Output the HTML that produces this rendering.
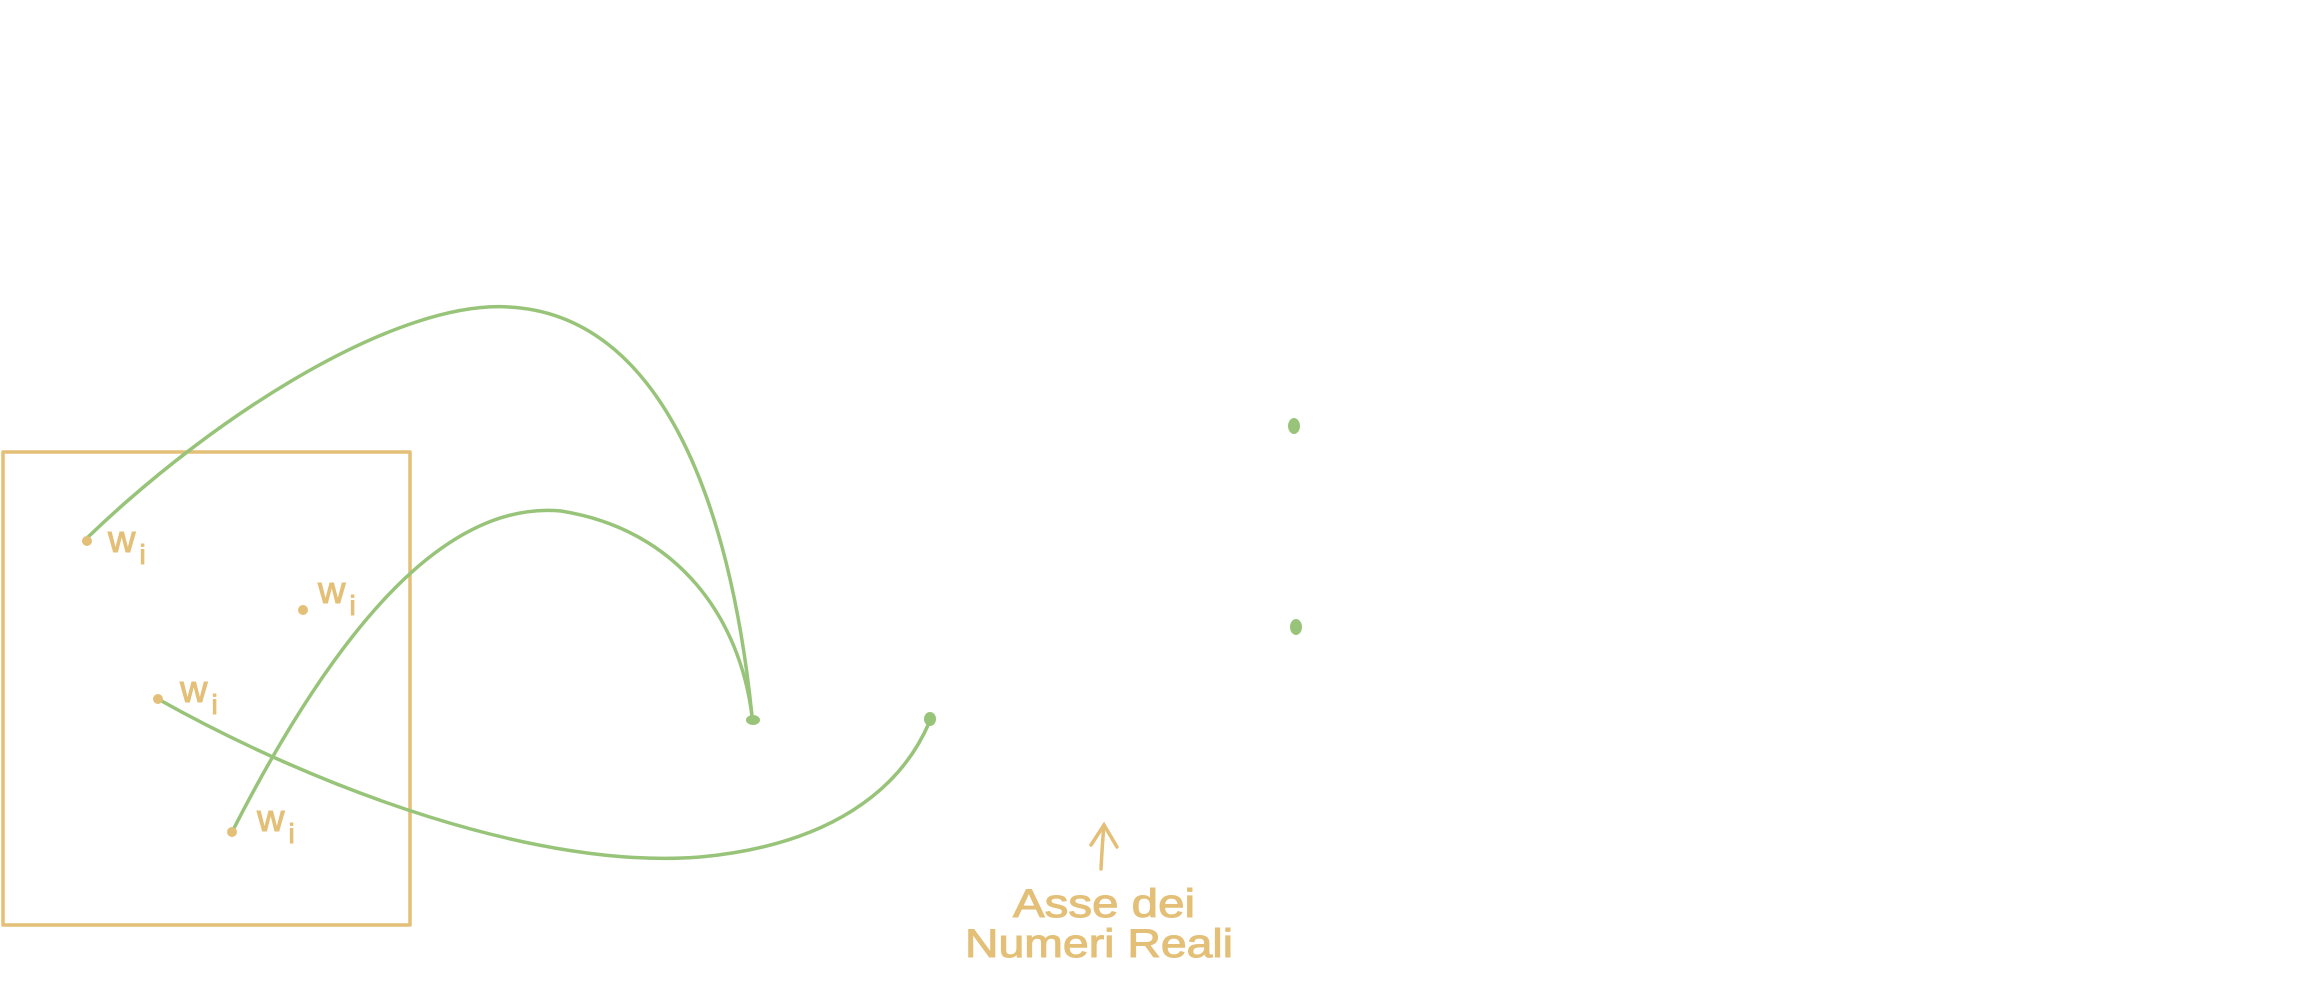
<!DOCTYPE html>
<html><head><meta charset="utf-8"><style>
html,body{margin:0;padding:0;background:#fff;width:2299px;height:1000px;overflow:hidden}
svg{display:block}
text{font-family:"Liberation Sans",sans-serif;fill:#e3bf77;stroke:#e3bf77;stroke-width:1}
</style></head><body>
<svg width="2299" height="1000" viewBox="0 0 2299 1000">
<rect x="3" y="452" width="407" height="473" fill="none" stroke="#e3bf77" stroke-width="3.5" stroke-linejoin="round"/>
<g stroke="#98c47a" stroke-width="3.5" fill="none" stroke-linecap="round">
<path d="M87,538 C220,410 400,300 509,307 C660,315 730,500 752,716"/>
<path d="M232,832 C330,640 440,500 561,511 C680,530 740,620 752,716"/>
<path d="M158,699 C320,790 540,870 700,857 C830,845 900,790 929,723"/>
</g>
<g fill="#98c47a">
<ellipse cx="753" cy="720" rx="7" ry="5"/>
<ellipse cx="930" cy="719" rx="6" ry="7"/>
<ellipse cx="1294" cy="426" rx="6" ry="8"/>
<ellipse cx="1296" cy="627" rx="6" ry="8"/>
</g>
<g fill="#e3bf77">
<circle cx="87" cy="541" r="5"/>
<circle cx="303" cy="610" r="5"/>
<circle cx="158" cy="699" r="5"/>
<circle cx="232" cy="832" r="5"/>
</g>
<text x="108" y="552" font-size="38" letter-spacing="4">w<tspan font-size="28" dy="12">i</tspan></text>
<text x="318" y="603" font-size="38" letter-spacing="4">w<tspan font-size="28" dy="12">i</tspan></text>
<text x="180" y="702" font-size="38" letter-spacing="4">w<tspan font-size="28" dy="12">i</tspan></text>
<text x="257" y="831" font-size="38" letter-spacing="4">w<tspan font-size="28" dy="12">i</tspan></text>
<g stroke="#e3bf77" stroke-width="3.5" fill="none" stroke-linecap="round">
<path d="M1101,869 C1102,850 1103,835 1104,825"/>
<path d="M1091,845 L1104,825 L1117,847"/>
</g>
<text x="1013" y="917" font-size="40" textLength="182" lengthAdjust="spacingAndGlyphs">Asse dei</text>
<text x="965" y="957" font-size="40" textLength="268" lengthAdjust="spacingAndGlyphs">Numeri Reali</text>
</svg>
</body></html>
